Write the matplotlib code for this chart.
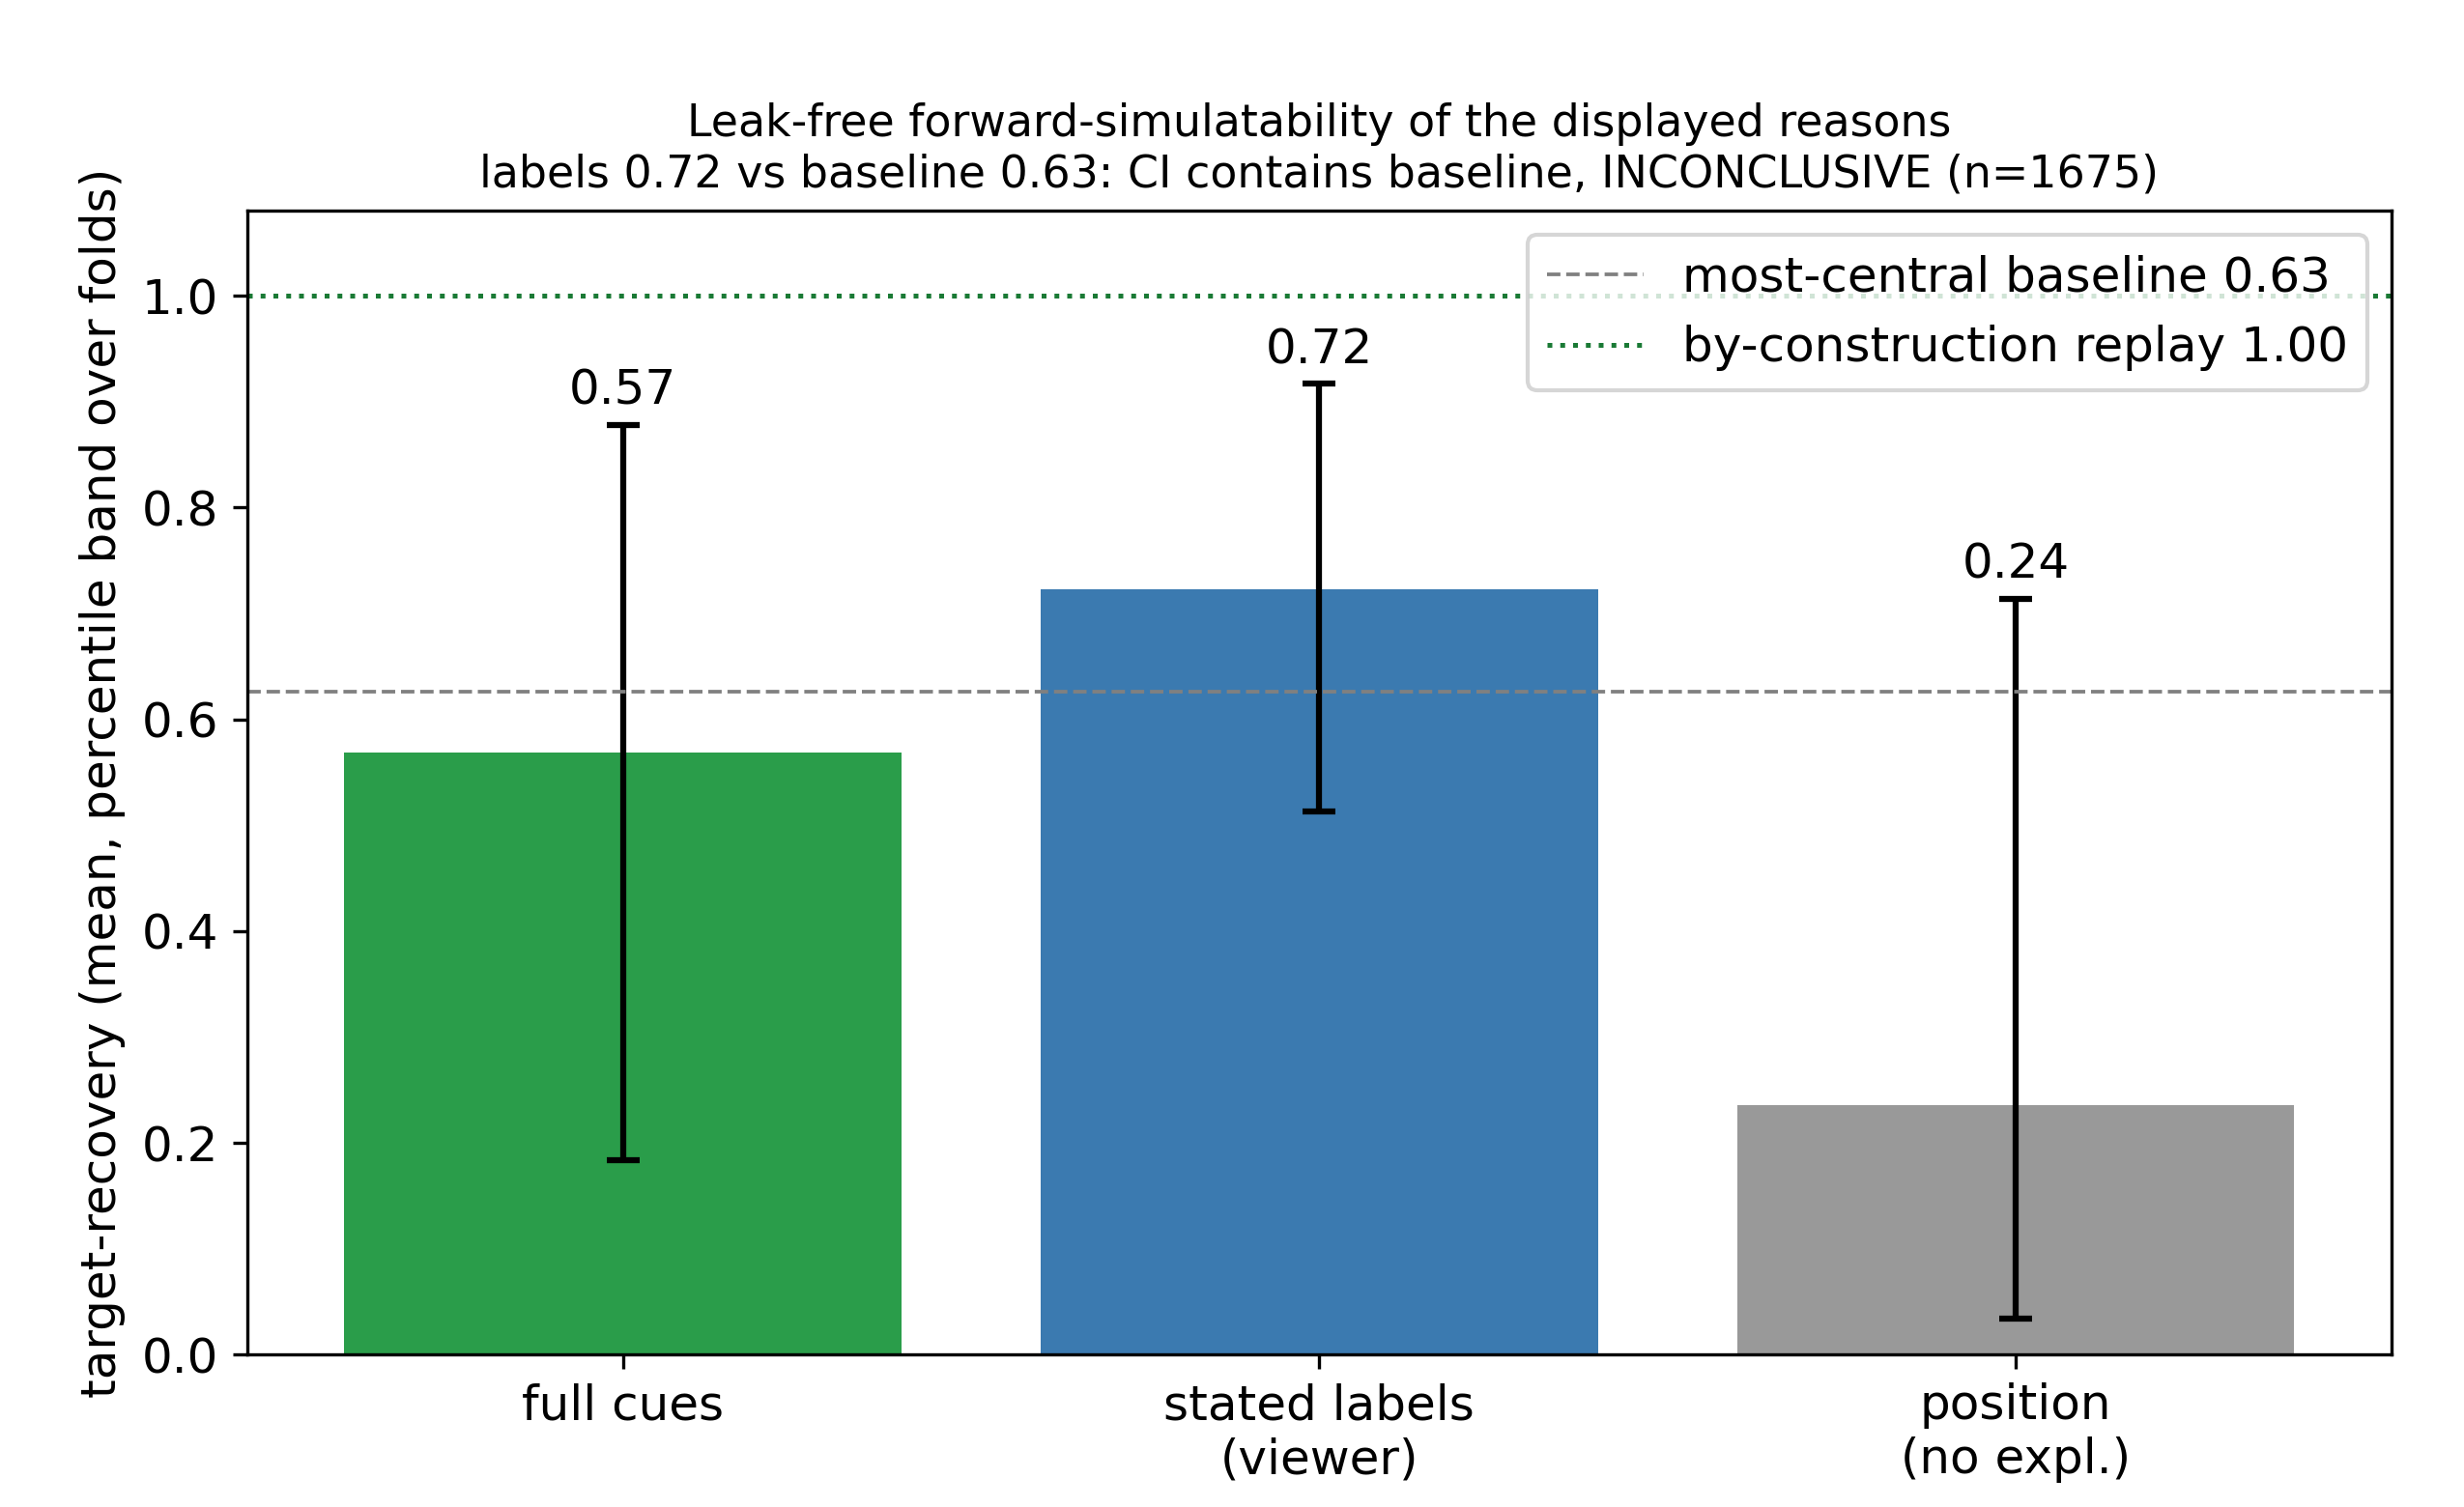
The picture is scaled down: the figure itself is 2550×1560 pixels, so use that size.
import matplotlib
matplotlib.use("Agg")
import matplotlib.pyplot as plt

# values
categories = ["full cues", "stated labels\n(viewer)", "position\n(no expl.)"]
means = [0.569, 0.723, 0.236]
ci_lo = [0.184, 0.513, 0.034]
ci_hi = [0.878, 0.917, 0.714]
bar_colors = ["#2a9d4a", "#3b7ab0", "#999999"]

baseline = 0.626
replay = 1.00
n_items = 1675


def main() -> None:
    plt.rcParams["font.size"] = 12
    fig, ax = plt.subplots(figsize=(8.5, 5.2), dpi=300)
    fig.subplots_adjust(left=0.1002, right=0.9706, bottom=0.1011, top=0.860)

    xs = list(range(len(categories)))
    yerr = [[m - lo for m, lo in zip(means, ci_lo)],
            [hi - m for m, hi in zip(means, ci_hi)]]
    ax.bar(xs, means, width=0.8, color=bar_colors,
           yerr=yerr, capsize=4,
           error_kw=dict(elinewidth=1.5, capthick=1.5, ecolor="black"))

    for x, m, hi in zip(xs, means, ci_hi):
        ax.text(x, hi + 0.01, f"{m:.2f}", ha="center", va="bottom", fontsize=12)

    ax.axhline(baseline, color="gray", linestyle="--", linewidth=0.9,
               label=f"most-central baseline {baseline:.2f}")
    ax.axhline(replay, color="#1a7a35", linestyle=":", linewidth=1.2,
               label=f"by-construction replay {replay:.2f}")

    ax.set_ylim(0, 1.08)
    ax.set_xticks(xs)
    ax.set_xticklabels(categories)
    ax.set_ylabel("target-recovery (mean, percentile band over folds)")
    ax.set_title("Leak-free forward-simulatability of the displayed reasons\n"
                 f"labels {means[1]:.2f} vs baseline {baseline:.2f}: CI contains baseline, "
                 f"INCONCLUSIVE (n={n_items})", fontsize=11)
    ax.legend(loc="upper right")

    fig.savefig("out.png", dpi=300)
    plt.close(fig)


if __name__ == "__main__":
    main()
